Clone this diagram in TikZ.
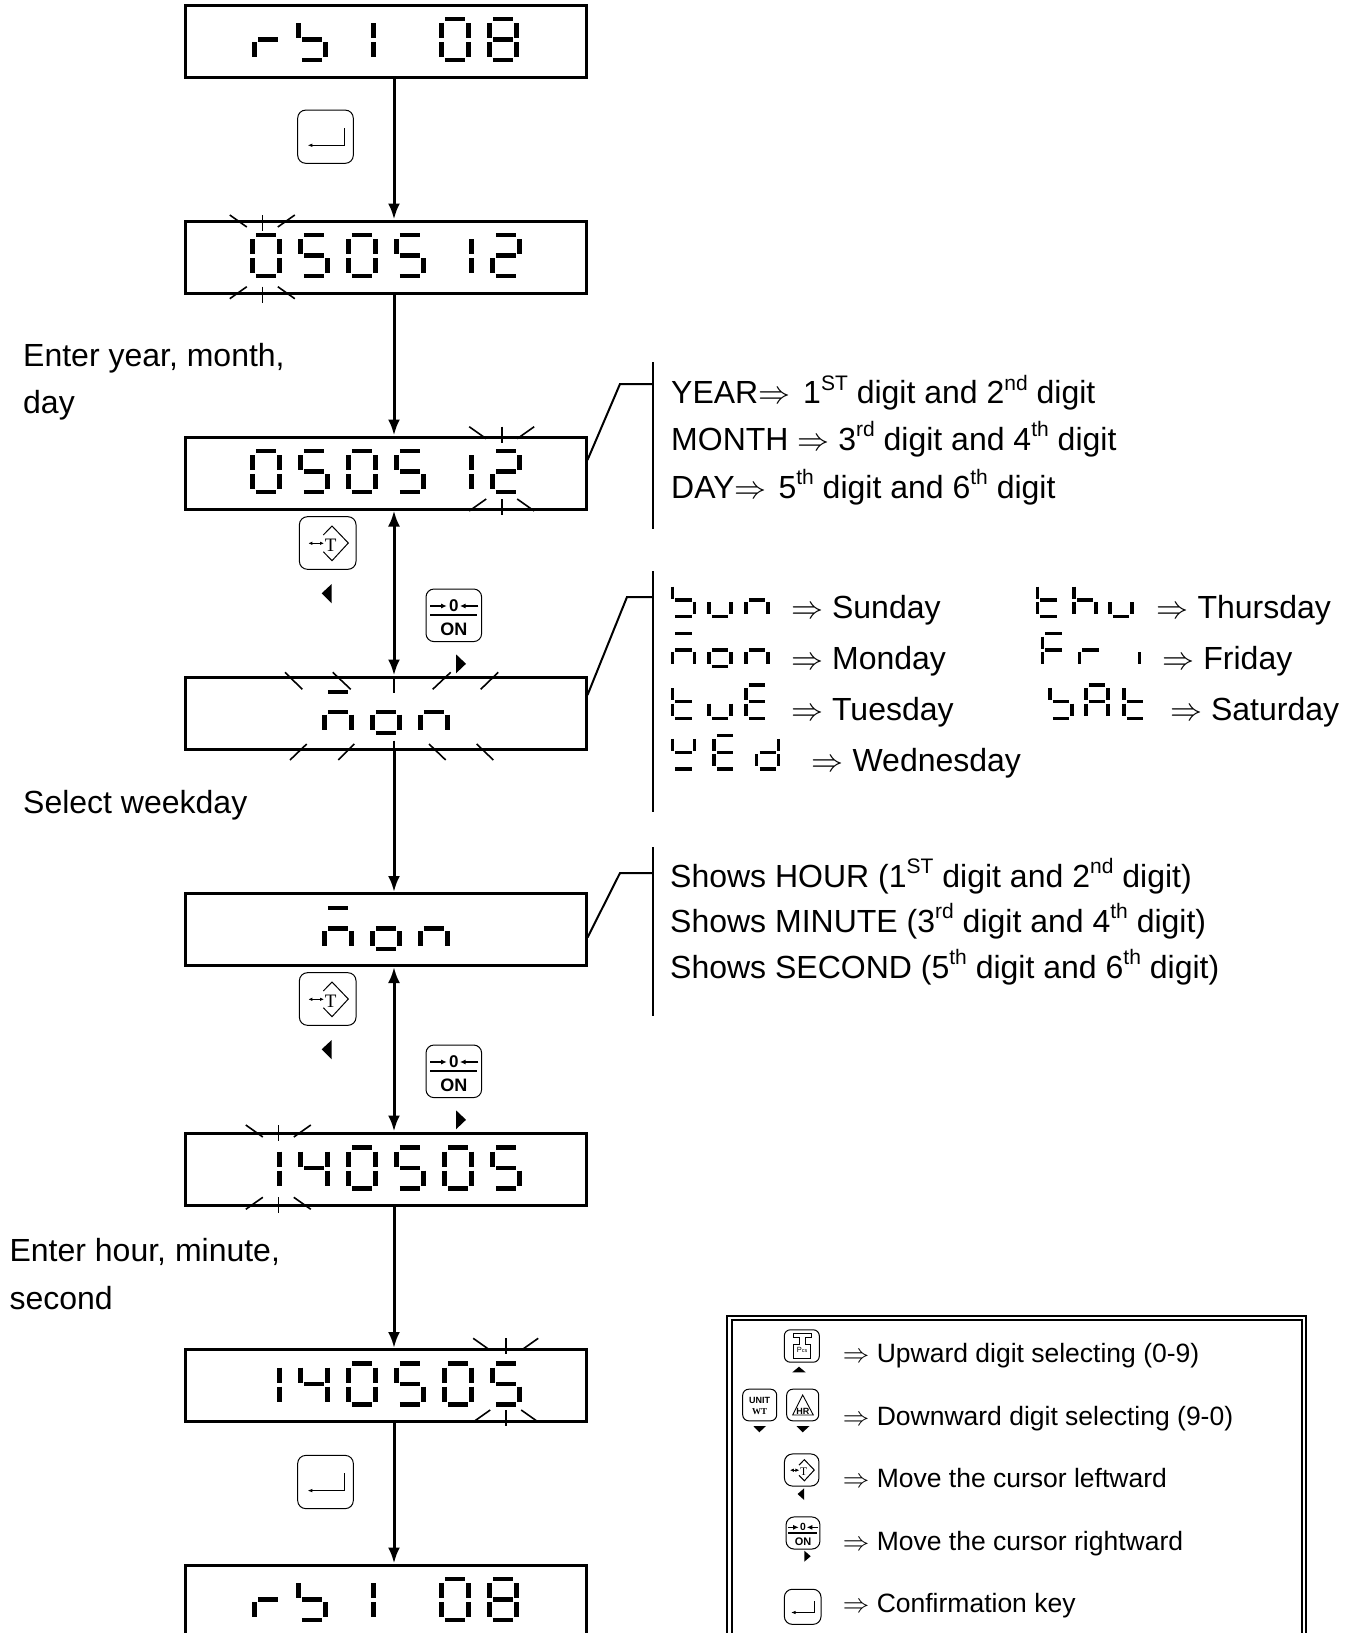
\documentclass[tikz,border=0pt]{standalone}
\usepackage{fontspec}
\setmainfont{Liberation Sans}
\newfontfamily\keyserif{Liberation Serif}
\usetikzlibrary{arrows.meta}

% one segment of the display, cell origin at its top left corner
\def\sega{(3.5,0)--(24,0)}
\def\segb{(27,4)--(27,19)}
\def\segc{(27,23)--(27,38)}
\def\segd{(3.5,41)--(24,41)}
\def\sege{(0,23)--(0,38)}
\def\segf{(0,4)--(0,19)}
\def\segg{(3.5,20.5)--(24,20.5)}
% glyphs
\def\gzero{a,b,c,d,e,f}
\def\gone{b,c}
\def\gtwo{a,b,g,e,d}
\def\gfour{f,g,b,c}
\def\gfive{a,f,g,c,d}
\def\geight{a,b,c,d,e,f,g}
\def\gr{e,g}
\def\gb{f,g,c,d}
\def\gn{g,e,c}
\def\gm{a,g,e,c}
\def\go{g,e,c,d}
\def\gu{e,c,d}
\def\gt{f,g,e,d}
\def\gh{f,g,e,c}
\def\gE{a,f,g,e,d}
\def\gF{a,f,g,e}
\def\gA{a,b,c,e,f,g}
\def\gd{b,c,d,e,g}
\def\gy{f,b,g,d}
\def\gi{c}
\newcommand{\lcd}[4][seg]{\foreach \s in #4 {\expandafter\let\expandafter\segpath\csname seg\s\endcsname
  \draw[shift={(#2,#3)},#1] \segpath;}}
\newcommand{\lcdrow}[7]{\lcd{252.3}{#1}{#2}\lcd{300.3}{#1}{#3}\lcd{348.3}{#1}{#4}\lcd{396.3}{#1}{#5}\lcd{444.3}{#1}{#6}\lcd{492.3}{#1}{#7}}
\newcommand{\rsrow}[1]{\lcd{254.3}{#1}{\gr}\lcd{298.3}{#1}{\gb}\lcd{346.3}{#1}{\gone}\lcd{441.3}{#1}{\gzero}\lcd{489.3}{#1}{\geight}}
\newcommand{\monrow}[1]{\lcd{324.3}{#1}{\gm}\lcd{372.3}{#1}{\go}\lcd{420.3}{#1}{\gn}}
% blinking rays round one digit
\newcommand{\flash}[3]{
\draw[ray] (#1,#2)--(#1,#2+16);
\draw[ray] (#1-32.5,#2)--(#1-15.5,#2+12);
\draw[ray] (#1+32.5,#2)--(#1+15.5,#2+12);
\draw[ray] (#1,#3-16)--(#1,#3);
\draw[ray] (#1-15.5,#3-16)--(#1-32.5,#3-4);
\draw[ray] (#1+15.5,#3-16)--(#1+32.5,#3-4);
}
\newcommand{\sps}[1]{\raisebox{.42em}{\fontsize{21}{21}\selectfont #1}}
\newcommand{\imp}{\resizebox{1em}{!}{$\Rightarrow$}}

\tikzset{
lcdbox/.style={draw,line width=3pt,minimum width=401pt,minimum height=72pt,inner sep=0pt},
arr/.style={line width=3pt,-{Latex[length=16pt,width=12pt]}},
darr/.style={line width=3pt,{Latex[length=16pt,width=12pt]}-{Latex[length=16pt,width=12pt]}},
ldr/.style={line width=2pt},
ray/.style={line width=1.6pt},
seg/.style={line width=4.4pt},
segs/.style={line width=3.3pt,scale=.81},
lbl/.style={anchor=base west,inner sep=0pt,font=\fontsize{32}{32}\selectfont},
lgd/.style={anchor=base west,inner sep=0pt,font=\fontsize{26.5}{26.5}\selectfont},
keyline/.style={line width=1pt,rounded corners=8pt},
enterkey/.pic={
\draw[keyline] (-27.8,-26.6) rectangle (27.8,26.6);
\draw[line width=1pt,-{Latex[length=5pt,width=3.5pt]}] (18.5,-8.7)--(18.5,8.6)--(-18.2,8.6);
},
tarekey/.pic={
\draw[keyline] (-28.3,-26.3) rectangle (28.3,26.3);
\draw[line width=1pt] (-4.4,-8)--(4.3,-17)--(20.6,0)--(4.3,17.7)--(-4.4,8.7);
\draw[line width=.9pt,{Latex[length=4pt,width=3.5pt]}-{Latex[length=4pt,width=3.5pt]}] (-19.4,0.3)--(-3.7,0.3);
\node[inner sep=0pt,font=\keyserif\fontsize{19}{19}\selectfont] (t) at (3,2) {T};
},
zerokey/.pic={
\draw[keyline] (-27.8,-26.3) rectangle (27.8,26.3);
\draw[line width=2pt] (-23.8,-.3)--(22.9,-.3);
\draw[line width=1.2pt,-{Latex[length=5.5pt,width=5pt]}] (-23.8,-9.3)--(-7.1,-9.3);
\draw[line width=1.2pt,-{Latex[length=5.5pt,width=5pt]}] (24.5,-9.3)--(6.2,-9.3);
\node[inner sep=0pt,font=\bfseries\fontsize{17}{17}\selectfont] (z) at (0,-9.3) {0};
\node[inner sep=0pt,font=\bfseries\fontsize{18}{18}\selectfont] (on) at (0,14) {ON};
},
pcskey/.pic={
\draw[line width=1pt,rounded corners=6pt] (-17.5,-16.2) rectangle (17.5,16.2);
\draw[line width=.9pt] (-8.8,-12.5)--(9.5,-12.5)--(9.5,-8.2)--(3.5,-8.2)--(3.5,-1.5)--(8.5,-1.5)--(8.5,12.5)--(-8.2,12.5)--(-8.2,-1.5)--(-2.5,-1.5)--(-2.5,-8.2)--(-8.8,-8.2)--cycle;
\node[inner sep=0pt,font=\fontsize{7.5}{7.5}\selectfont] (p) at (0.3,4.2) {P\fontsize{5.5}{5.5}\selectfont cs};
},
unitkey/.pic={
\draw[line width=1pt,rounded corners=6pt] (-17,-15.8) rectangle (17,15.8);
\node[inner sep=0pt,font=\bfseries\fontsize{9}{9}\selectfont] (u) at (0,-4.3) {UNIT};
\node[inner sep=0pt,font=\keyserif\bfseries\fontsize{9}{9}\selectfont] (w) at (0,6.7) {WT};
},
hrkey/.pic={
\draw[line width=1pt,rounded corners=6pt] (-16,-15.8) rectangle (16,15.8);
\draw[line width=.9pt] (0,-10)--(10.6,10)--(-10,10)--cycle;
\node[inner sep=0pt,font=\bfseries\fontsize{9}{9}\selectfont] (h) at (0.2,6.2) {HR};
},
}

\begin{document}
\begin{tikzpicture}[x=1pt,y=-1pt]
\clip (0,0) rectangle (1357,1633);
\coordinate (axis) at (394,0);
% display boxes
\node[lcdbox] (rs) at (385.5,41) {};
\node[lcdbox] (date) at (385.5,257) {};
\node[lcdbox] (day) at (385.5,473) {};
\node[lcdbox] (week) at (385.5,713) {};
\node[lcdbox] (mon) at (385.5,929.5) {};
\node[lcdbox] (time) at (385.5,1169) {};
\node[lcdbox] (sec) at (385.5,1385.5) {};
\node[lcdbox] (end) at (385.5,1601) {};
% connectors
\draw[arr] (rs.south -| axis)--(date.north -| axis);
\draw[arr] (date.south -| axis)--(day.north -| axis);
\draw[darr] (day.south -| axis)--(week.north -| axis);
\draw[arr] (week.south -| axis)--(mon.north -| axis);
\draw[darr] (mon.south -| axis)--(time.north -| axis);
\draw[arr] (time.south -| axis)--(sec.north -| axis);
\draw[arr] (sec.south -| axis)--(end.north -| axis);
% display digits
\rsrow{19}
\lcdrow{235}{\gzero}{\gfive}{\gzero}{\gfive}{\gone}{\gtwo}
\lcdrow{451}{\gzero}{\gfive}{\gzero}{\gfive}{\gone}{\gtwo}
\monrow{691.7}
\monrow{908}
\lcdrow{1147.5}{\gone}{\gfour}{\gzero}{\gfive}{\gzero}{\gfive}
\lcdrow{1363.5}{\gone}{\gfour}{\gzero}{\gfive}{\gzero}{\gfive}
\rsrow{1579}
% blinking
\flash{262.3}{215}{302.7}
\flash{501.7}{426.7}{515}
\flash{278.3}{1125}{1213.3}
\flash{505.7}{1338.3}{1426}
\draw[ray] (285,672.3)--(302.3,689.3);
\draw[ray] (332.7,672.3)--(350.7,689.3);
\draw[ray] (394,677)--(394,693);
\draw[ray] (450.7,672.3)--(432.7,689.3);
\draw[ray] (498.3,672.3)--(480.7,689.3);
\draw[ray] (306.7,744)--(290,760);
\draw[ray] (354.3,744)--(338.3,760);
\draw[ray] (394,740.7)--(394,749);
\draw[ray] (429,744)--(445.7,760);
\draw[ray] (476.7,744)--(493.3,760);
% keys
\pic (ka) at (325.5,136.7) {enterkey};
\pic (kb) at (327.7,543) {tarekey};
\pic (kc) at (453.8,615.3) {zerokey};
\pic (kd) at (327.7,999) {tarekey};
\pic (ke) at (453.8,1071.3) {zerokey};
\pic (kf) at (325.5,1482) {enterkey};
\fill (321.7,593.3)--(331.7,584)--(331.7,603.3)--cycle;
\fill (466,663.8)--(456,654.3)--(456,673.3)--cycle;
\fill (321.7,1049.3)--(331.7,1040)--(331.7,1059.3)--cycle;
\fill (466,1119.8)--(456,1110.3)--(456,1129.3)--cycle;
% side texts
\node[lbl] (ya) at (23,366) {Enter year, month,};
\node[lbl] (yb) at (23,413) {day};
\node[lbl] (wk) at (23,813) {Select weekday};
\node[lbl] (ha) at (9.4,1261) {Enter hour, minute,};
\node[lbl] (hb) at (9.4,1309) {second};
% leaders
\draw[ldr] ([yshift=13pt]day.east)--(620,384)--(653,384);
\draw[ldr] (653,362)--(653,529);
\draw[ldr] ([yshift=18pt]week.east)--(627,597)--(653,597);
\draw[ldr] (653,571)--(653,812);
\draw[ldr] ([yshift=-8pt]mon.east)--(620,873)--(653,873);
\draw[ldr] (653,847)--(653,1016);
\node[lbl] (la) at (671,403.7) {YEAR\imp{}\hspace{4pt} 1\sps{ST} digit and 2\sps{nd} digit};
\node[lbl] (lb) at (671,450.3) {MONTH \imp{} 3\sps{rd} digit and 4\sps{th} digit};
\node[lbl] (lc) at (671,498) {DAY\imp{}\hspace{3pt} 5\sps{th} digit and 6\sps{th} digit};
\node[lbl] (sa) at (670,887) {Shows HOUR (1\sps{ST} digit and 2\sps{nd} digit)};
\node[lbl] (sb) at (670,932) {Shows MINUTE (3\sps{rd} digit and 4\sps{th} digit)};
\node[lbl] (sc) at (670,978) {Shows SECOND (5\sps{th} digit and 6\sps{th} digit)};
% weekdays
\lcd[segs]{672.3}{583.5}{\gb}\lcd[segs]{709}{583.5}{\gu}\lcd[segs]{746}{583.5}{\gn}
\lcd[segs]{672.3}{633.5}{\gm}\lcd[segs]{709}{633.5}{\go}\lcd[segs]{746}{633.5}{\gn}
\lcd[segs]{672.3}{685}{\gt}\lcd[segs]{709}{685}{\gu}\lcd[segs]{746}{685}{\gE}
\lcd[segs]{672.3}{735.7}{\gy}\lcd[segs]{714}{735.7}{\gE}\lcd[segs]{756.7}{735.7}{\gd}
\lcd[segs]{1037.3}{583.5}{\gt}\lcd[segs]{1074}{583.5}{\gh}\lcd[segs]{1110}{583.5}{\gu}
\lcd[segs]{1042.3}{633.5}{\gF}\lcd[segs]{1079.3}{633.5}{\gr}\lcd[segs]{1117.3}{633.5}{\gi}
\lcd[segs]{1050}{685}{\gb}\lcd[segs]{1086}{685}{\gA}\lcd[segs]{1124}{685}{\gt}
\node[lbl] (da) at (791,618) {\imp{} Sunday};
\node[lbl] (db) at (791,669.3) {\imp{} Monday};
\node[lbl] (dc) at (791,720.3) {\imp{} Tuesday};
\node[lbl] (dd) at (811.5,771.3) {\imp{} Wednesday};
\node[lbl] (de) at (1156.5,618) {\imp{} Thursday};
\node[lbl] (df) at (1162.3,669.3) {\imp{} Friday};
\node[lbl] (dg) at (1170,720.3) {\imp{} Saturday};
% legend
\draw[line width=2pt] (727.3,1315.7) rectangle (1306,1650);
\draw[line width=1.8pt] (731.7,1320) rectangle (1301.7,1650);
\pic (ma) at (801.8,1346) {pcskey};
\pic (mb) at (759.7,1405) {unitkey};
\pic (mc) at (802.7,1405) {hrkey};
\pic[scale=.61,transform shape] (md) at (801.7,1470) {tarekey};
\pic[scale=.61,transform shape] (me) at (803,1533) {zerokey};
\pic[scale=.66,transform shape] (mf) at (802.7,1606.8) {enterkey};
\fill (799,1366.7)--(792.3,1372.3)--(805.7,1372.3)--cycle;
\fill (759.3,1432.3)--(753.3,1426)--(766,1426)--cycle;
\fill (802.7,1432.3)--(796.5,1426)--(809.5,1426)--cycle;
\fill (797.5,1494)--(804.2,1488.3)--(804.2,1500)--cycle;
\fill (810.7,1556.2)--(804.3,1550.7)--(804.3,1561.7)--cycle;
\node[lgd] (ua) at (842.7,1362.5) {\imp{} Upward digit selecting (0-9)};
\node[lgd] (ub) at (842.7,1425) {\imp{} Downward digit selecting (9-0)};
\node[lgd] (uc) at (842.7,1487.7) {\imp{} Move the cursor leftward};
\node[lgd] (ud) at (842.7,1550) {\imp{} Move the cursor rightward};
\node[lgd] (ue) at (842.7,1612.7) {\imp{} Confirmation key};
\end{tikzpicture}
\end{document}
